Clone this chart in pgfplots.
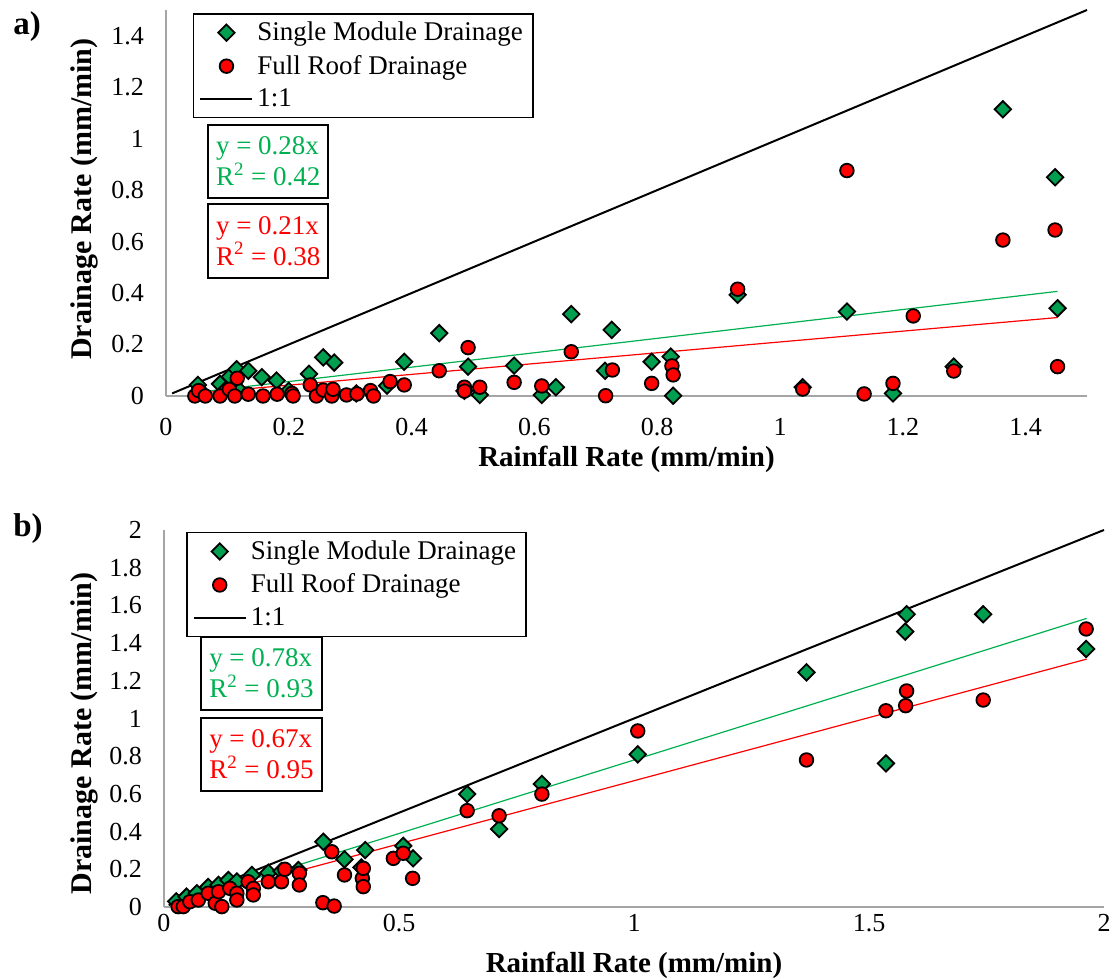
\documentclass[border=0pt]{standalone}
\usepackage{fontspec}
\setmainfont{Liberation Serif}
\usepackage{pgfplots}
\pgfplotsset{compat=1.18}
\usepackage{pgfplotstable}
\definecolor{dgreen}{RGB}{0,158,79}
\definecolor{lgreen}{RGB}{0,176,80}
\definecolor{axgray}{RGB}{165,165,165}

\pgfplotstableread{
x y
0.052 0.043
0.060 0.010
0.088 0.047
0.100 0.030
0.104 0.075
0.115 0.104
0.120 0.020
0.134 0.098
0.156 0.073
0.180 0.060
0.200 0.020
0.233 0.086
0.256 0.150
0.270 0.010
0.274 0.130
0.310 0.010
0.360 0.040
0.388 0.133
0.445 0.244
0.486 0.020
0.492 0.114
0.511 0.004
0.567 0.118
0.612 0.004
0.635 0.034
0.660 0.318
0.715 0.098
0.726 0.257
0.791 0.133
0.822 0.153
0.826 0.001
0.931 0.393
1.037 0.034
1.109 0.328
1.184 0.010
1.283 0.114
1.363 1.114
1.448 0.850
1.452 0.341
}\smA

\pgfplotstableread{
x y
0.047 0.000
0.053 0.021
0.064 0.000
0.088 0.000
0.103 0.026
0.112 0.000
0.116 0.069
0.134 0.007
0.158 0.000
0.181 0.007
0.205 0.010
0.207 0.000
0.235 0.043
0.245 0.000
0.256 0.023
0.270 0.000
0.272 0.026
0.294 0.004
0.311 0.008
0.333 0.021
0.338 0.000
0.365 0.056
0.388 0.043
0.445 0.098
0.486 0.034
0.486 0.019
0.492 0.188
0.511 0.034
0.567 0.053
0.612 0.039
0.660 0.172
0.716 0.001
0.727 0.101
0.791 0.049
0.824 0.117
0.826 0.082
0.931 0.415
1.037 0.027
1.109 0.876
1.137 0.008
1.184 0.049
1.217 0.311
1.283 0.097
1.363 0.606
1.448 0.645
1.452 0.114
}\frA

\pgfplotstableread{
x y
0.026 0.030
0.048 0.055
0.070 0.073
0.094 0.106
0.116 0.117
0.137 0.143
0.155 0.135
0.187 0.170
0.222 0.182
0.250 0.190
0.286 0.196
0.339 0.346
0.384 0.253
0.420 0.210
0.428 0.302
0.509 0.324
0.530 0.258
0.645 0.599
0.713 0.414
0.804 0.653
1.008 0.810
1.367 1.245
1.536 0.762
1.577 1.461
1.580 1.553
1.743 1.553
1.962 1.369
}\smB

\pgfplotstableread{
x y
0.030 0.002
0.041 0.002
0.055 0.028
0.073 0.037
0.094 0.073
0.109 0.020
0.116 0.081
0.123 0.002
0.140 0.099
0.155 0.073
0.155 0.037
0.179 0.134
0.190 0.099
0.190 0.064
0.222 0.134
0.250 0.134
0.257 0.200
0.288 0.179
0.288 0.117
0.338 0.023
0.357 0.293
0.362 0.005
0.384 0.170
0.422 0.152
0.424 0.205
0.424 0.108
0.488 0.258
0.509 0.285
0.529 0.152
0.645 0.511
0.713 0.484
0.804 0.599
1.008 0.934
1.367 0.780
1.536 1.041
1.578 1.068
1.580 1.146
1.743 1.098
1.962 1.475
}\frB

\pgfplotsset{
  mystyle/.style={
    scale only axis,
    axis lines*=left,
    axis line style={draw=axgray, line width=0.7pt, -},
    major tick length=0pt,
    clip=false,
    /pgf/number format/assume math mode=true,
    tick label style={font=\fontsize{13}{15}\selectfont},
    xlabel style={font=\fontsize{14.5}{16}\selectfont\bfseries},
    ylabel style={font=\fontsize{15}{16}\selectfont\bfseries},
    yticklabel style={xshift=-7.5pt},
    legend cell align=left,
    legend image code/.code={\draw[mark repeat=2,mark phase=2,##1] plot coordinates {(0pt,0pt) (13pt,0pt) (26pt,0pt)};},
    legend style={draw=black, line width=0.75pt, font=\fontsize{13.5}{15}\selectfont, row sep=1.8pt, inner xsep=3pt},
  },
  gmark/.style={only marks, mark=square*, mark size=2.9pt, mark options={rotate=45, fill=dgreen, draw=black, line width=0.9pt}},
  rmark/.style={only marks, mark=*, mark size=3.4pt, mark options={fill=red, draw=black, line width=0.9pt}},
}
\tikzset{
  boxnode/.style={draw=black, line width=1pt, align=left, inner xsep=4pt, inner ysep=6pt,
    font=\fontsize{13.5}{15.5}\selectfont},
}

\begin{document}
\begin{tikzpicture}
% ---------------- a) ----------------
\begin{axis}[mystyle,
  at={(83pt,292pt)}, anchor=south west,
  width=460.5pt, height=193pt,
  xmin=0, xmax=1.5, ymin=0, ymax=1.5,
  xtick={0,0.2,0.4,0.6,0.8,1,1.2,1.4},
  ytick={0,0.2,0.4,0.6,0.8,1,1.2,1.4},
  xticklabel style={yshift=-7.5pt},
  xlabel={Rainfall Rate (mm/min)},
  ylabel={Drainage Rate (mm/min)},
  xlabel style={at={(axis description cs:0.5,-0.165)}, anchor=center},
  ylabel style={at={(axis description cs:-0.089,0.51)}, anchor=center, rotate=0},
  legend style={at={(0.029,0.992)}, anchor=north west},
]
\addplot[black, line width=1pt, forget plot] coordinates {(0.01,0.01) (1.5,1.5)};
\addplot[lgreen, line width=0.6pt, forget plot] coordinates {(0.047,0.0132) (1.452,0.4066)};
\addplot[red, line width=0.6pt, forget plot] coordinates {(0.047,0.0099) (1.452,0.3049)};
\addplot[gmark] table[x=x,y=y] {\smA};
\addlegendentry{Single Module Drainage}
\addplot[rmark] table[x=x,y=y] {\frA};
\addlegendentry{Full Roof Drainage}
\addlegendimage{black, line width=1pt}
\addlegendentry{1:1}
\node[boxnode, text=lgreen] at (rel axis cs:0.111,0.6075) {y = 0.28x\\R\textsuperscript{2} = 0.42};
\node[boxnode, text=red] at (rel axis cs:0.111,0.4016) {y = 0.21x\\R\textsuperscript{2} = 0.38};
\end{axis}

% ---------------- b) ----------------
\begin{axis}[mystyle,
  at={(82pt,36.5pt)}, anchor=south west,
  width=470pt, height=188.5pt,
  xmin=0, xmax=2, ymin=0, ymax=2,
  xtick={0,0.5,1,1.5,2},
  ytick={0,0.2,0.4,0.6,0.8,1,1.2,1.4,1.6,1.8,2},
  xticklabel style={yshift=0pt},
  xlabel={Rainfall Rate (mm/min)},
  ylabel={Drainage Rate (mm/min)},
  xlabel style={at={(axis description cs:0.5,-0.154)}, anchor=center},
  ylabel style={at={(axis description cs:-0.085,0.46)}, anchor=center, rotate=0},
  legend style={at={(0.0234,0.995)}, anchor=north west},
]
\addplot[black, line width=1pt, forget plot] coordinates {(0.01,0.01) (2,2)};
\addplot[lgreen, line width=0.6pt, forget plot] coordinates {(0.027,0.021) (1.963,1.531)};
\addplot[red, line width=0.6pt, forget plot] coordinates {(0.027,0.018) (1.963,1.315)};
\addplot[gmark] table[x=x,y=y] {\smB};
\addlegendentry{Single Module Drainage\hspace{12pt}}
\addplot[rmark] table[x=x,y=y] {\frB};
\addlegendentry{Full Roof Drainage}
\addlegendimage{black, line width=1pt}
\addlegendentry{1:1}
\node[boxnode, text=lgreen] at (rel axis cs:0.1037,0.62) {y = 0.78x\\R\textsuperscript{2} = 0.93};
\node[boxnode, text=red] at (rel axis cs:0.1037,0.405) {y = 0.67x\\R\textsuperscript{2} = 0.95};
\end{axis}

\node[font=\fontsize{16.5}{18}\selectfont\bfseries] at (13.5pt,476.5pt) {a)};
\node[font=\fontsize{16.5}{18}\selectfont\bfseries] at (14pt,225.5pt) {b)};

\pgfresetboundingbox
\useasboundingbox (0,0) rectangle (560pt,490pt);
\end{tikzpicture}
\end{document}
